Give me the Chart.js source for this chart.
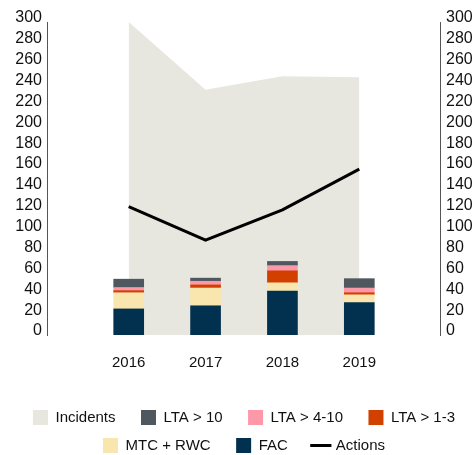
<!DOCTYPE html>
<html>
<head>
<meta charset="utf-8">
<script src="https://cdn.jsdelivr.net/npm/chart.js@4/dist/chart.umd.min.js"></script>
<style>
  html, body { margin: 0; padding: 0; background: #fff; }
  #wrap { width: 476px; height: 455px; }
</style>
</head>
<body>
<div id="wrap"><canvas id="grafico"></canvas></div>
<script>
// datos
const anios = [2016, 2017, 2018, 2019];
const incidentes = [300, 235, 248, 247];
const acciones = [123, 91, 120, 159];
const fac = [25, 28, 42, 31];
const mtcRwc = [15.5, 17, 8, 7.5];
const lta1a3 = [2, 3, 11.5, 2];
const lta4a10 = [3, 3.5, 5, 4.5];
const lta10 = [8, 3, 4, 9];
const ticksY = [0, 20, 40, 60, 80, 100, 120, 140, 160, 180, 200, 220, 240, 260, 280, 300];

const puntos = vals => vals.map((v, i) => ({ x: anios[i], y: v }));
const finDeFila = ['LTA > 1-3', 'Actions'];
const fuente = 'Liberation Sans, Arial, sans-serif';

function barra(label, vals, color, orden) {
    return { type: 'bar', label, data: puntos(vals), backgroundColor: color,
             borderWidth: 0, barThickness: 30, stack: 's', yAxisID: 'y', order: orden };
}

function ejeY(pos) {
    return {
        position: pos,
        min: 0,
        max: 300,
        stacked: pos === 'left',
        grid: { display: false, drawTicks: false },
        border: { display: true, color: '#555', width: 1 },
        afterBuildTicks: s => { s.ticks = ticksY.map(v => ({ value: v })); },
        ticks: {
            autoSkip: false,
            padding: 6,
            labelOffset: -4,
            color: '#111',
            font: { size: 16, family: fuente }
        }
    };
}

const ctx = document.getElementById('grafico').getContext('2d');
const grafico = new Chart(ctx, {
    data: {
        datasets: [
            { type: 'line', label: 'Incidents', data: puntos(incidentes), yAxisID: 'y2',
              backgroundColor: '#e7e6df', borderColor: '#e7e6df', borderWidth: 0,
              fill: 'origin', pointRadius: 0, tension: 0, order: 6 },
            barra('LTA > 10', lta10, '#4f575f', 5),
            barra('LTA > 4-10', lta4a10, '#fd98a8', 4),
            barra('LTA > 1-3', lta1a3, '#d24000', 3),
            barra('MTC + RWC', mtcRwc, '#f9e6af', 2),
            barra('FAC', fac, '#02304f', 1),
            { type: 'line', label: 'Actions', data: puntos(acciones), yAxisID: 'y2',
              borderColor: '#000', backgroundColor: '#000', borderWidth: 3,
              fill: false, pointRadius: 0, tension: 0, order: 0 }
        ]
    },
    options: {
        responsive: true,
        maintainAspectRatio: false,
        animation: false,
        layout: { padding: { left: 9.3, right: -2.7, top: 22, bottom: -8 } },
        plugins: {
            tooltip: { enabled: false },
            legend: {
                position: 'bottom',
                labels: {
                    usePointStyle: true,
                    padding: 13,
                    color: '#111',
                    font: { size: 15, family: fuente },
                    sort: (a, b) => a.datasetIndex - b.datasetIndex,
                    generateLabels: chart => {
                        const items = Chart.defaults.plugins.legend.labels.generateLabels(chart);
                        items.forEach(it => {
                            it.pointStyle = it.text === 'Actions' ? 'line' : 'rect';
                            if (!finDeFila.includes(it.text)) it.text = it.text + '   ';
                        });
                        return items;
                    }
                }
            }
        },
        scales: {
            x: {
                type: 'linear',
                min: 2014.95,
                max: 2020.05,
                offset: false,
                stacked: true,
                grid: { display: false, drawTicks: false },
                border: { display: false },
                afterBuildTicks: s => { s.ticks = anios.map(v => ({ value: v })); },
                afterFit: s => { s.height += 6; },
                ticks: {
                    autoSkip: false,
                    padding: 19,
                    color: '#111',
                    font: { size: 15, family: fuente },
                    callback: v => String(v)
                }
            },
            y: ejeY('left'),
            y2: ejeY('right')
        }
    }
});
</script>
</body>
</html>
